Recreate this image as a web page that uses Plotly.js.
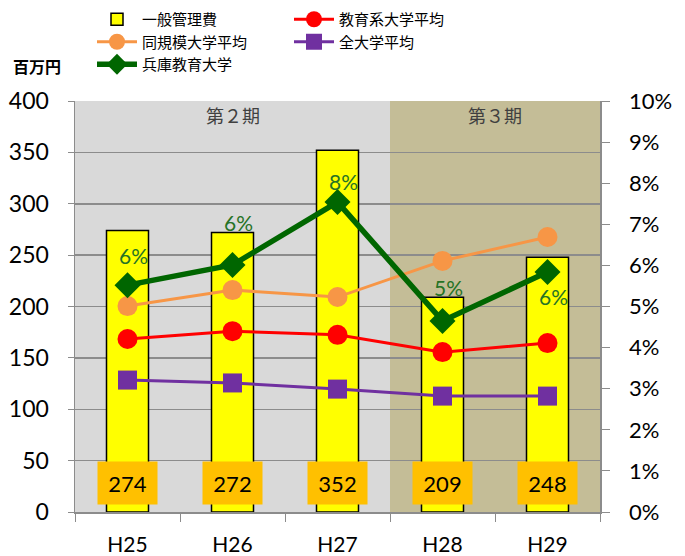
<!DOCTYPE html>
<html><head><meta charset="utf-8">
<script src="https://cdn.plot.ly/plotly-3.0.1.min.js"></script>
<style>body{margin:0;background:#fff}#c{width:685px;height:556px}</style>
</head><body><div id="c"></div>
<script>
const categories = ['H25','H26','H27','H28','H29'];
const generalAdmin = [274, 272, 352, 209, 248];          // 一般管理費 (百万円)
const eduUnivAvg   = [4.21, 4.40, 4.31, 3.89, 4.11];     // 教育系大学平均 (%)
const sameSizeAvg  = [5.01, 5.40, 5.23, 6.11, 6.69];     // 同規模大学平均 (%)
const allUnivAvg   = [3.21, 3.14, 2.99, 2.82, 2.82];     // 全大学平均 (%)
const hyogoEdu     = [5.52, 6.01, 7.54, 4.65, 5.84];     // 兵庫教育大学 (%)
const hyogoLabelShift = [30, 42, 21, 33, -25];           // label offsets (px) as placed in the original
const periods = [{name:'第２期', from:0, to:2, color:'#D9D9D9'}, {name:'第３期', from:3, to:4, color:'#C4BD97'}];

const FONT = "Lato, 'Noto Sans CJK JP', sans-serif";
const JP = "'Noto Sans CJK JP', sans-serif";

const traces = [
  {type:'bar', x:categories, y:generalAdmin, name:'一般管理費', width:0.4,
   marker:{color:'#FFFF00', line:{color:'#000', width:1.5}}},
  {type:'scatter', mode:'lines+markers', x:categories, y:eduUnivAvg, yaxis:'y2', name:'教育系大学平均',
   line:{color:'#FF0000', width:3}, marker:{symbol:'circle', size:20, color:'#FF0000'}},
  {type:'scatter', mode:'lines+markers', x:categories, y:sameSizeAvg, yaxis:'y2', name:'同規模大学平均',
   line:{color:'#F79646', width:3}, marker:{symbol:'circle', size:20, color:'#F79646'}},
  {type:'scatter', mode:'lines+markers', x:categories, y:allUnivAvg, yaxis:'y2', name:'全大学平均',
   line:{color:'#7030A0', width:3}, marker:{symbol:'square', size:19, color:'#7030A0'}},
  {type:'scatter', mode:'lines+markers', x:categories, y:hyogoEdu, yaxis:'y2', name:'兵庫教育大学',
   line:{color:'#006600', width:5.5}, marker:{symbol:'diamond', size:20, color:'#006600'}}
];

const shapes = periods.map(p => ({type:'rect', layer:'below', xref:'x', yref:'paper',
  x0:p.from-0.5, x1:p.to+0.5, y0:0, y1:1, fillcolor:p.color, line:{width:0}}));

const annotations = [];
periods.forEach(p => annotations.push({xref:'x', yref:'paper', x:(p.from+p.to)/2, y:0.966,
  xanchor:'center', yanchor:'middle', text:p.name, showarrow:false,
  font:{family:JP, size:18, color:'#404040'}}));
generalAdmin.forEach((v,i) => annotations.push({xref:'x', yref:'y', x:categories[i], y:28,
  xanchor:'center', yanchor:'middle', text:String(v), showarrow:false, bgcolor:'#FFC000', width:57, height:40,
  font:{family:FONT, size:22, color:'#000'}}));
hyogoEdu.forEach((v,i) => annotations.push({xref:'x', yref:'y2', x:categories[i], y:v,
  xanchor:'center', yanchor:'middle', xshift:6, yshift:hyogoLabelShift[i],
  text:Math.round(v)+'%', showarrow:false, font:{family:FONT, size:21, color:'#267326'}}));
annotations.push({xref:'paper', yref:'paper', x:(37-75)/525, y:(512-66)/411, xanchor:'center', yanchor:'middle',
  text:'<b>百万円</b>', showarrow:false, font:{family:JP, size:16, color:'#000'}});

const layout = {
  width:685, height:556, margin:{l:75, r:85, t:101, b:44, autoexpand:false},
  paper_bgcolor:'#fff', plot_bgcolor:'#fff', showlegend:true,
  font:{family:FONT, color:'#000'},
  xaxis:{type:'category', tickson:'boundaries', ticks:'outside', ticklen:8, tickcolor:'#8c8c8c',
    showline:true, linecolor:'#8c8c8c', linewidth:1.5, showgrid:false, automargin:false,
    tickfont:{family:FONT, size:21}, ticklabelstandoff:13},
  yaxis:{range:[0,400], dtick:50, ticks:'outside', ticklen:6, tickcolor:'#8c8c8c', automargin:false,
    showline:true, linecolor:'#8c8c8c', linewidth:1.5, gridcolor:'#8c8c8c', gridwidth:1.5,
    tickfont:{family:FONT, size:23}, zeroline:false, ticklabelstandoff:14},
  yaxis2:{range:[0,10], dtick:1, overlaying:'y', side:'right', ticksuffix:'%', ticks:'outside', ticklen:8,
    tickcolor:'#8c8c8c', showline:true, linecolor:'#8c8c8c', linewidth:1.5, showgrid:false, zeroline:false,
    tickfont:{family:FONT, size:22}, ticklabelstandoff:15, automargin:false},
  legend:{xref:'container', yref:'container', x:92/685, y:1-3/556, xanchor:'left', yanchor:'top',
    orientation:'h', font:{family:JP, size:15}, itemwidth:40, entrywidth:142, entrywidthmode:'pixels',
    tracegroupgap:0, bgcolor:'rgba(0,0,0,0)'},
  shapes, annotations
};
Plotly.newPlot('c', traces, layout, {displayModeBar:false, staticPlot:true});
</script></body></html>
